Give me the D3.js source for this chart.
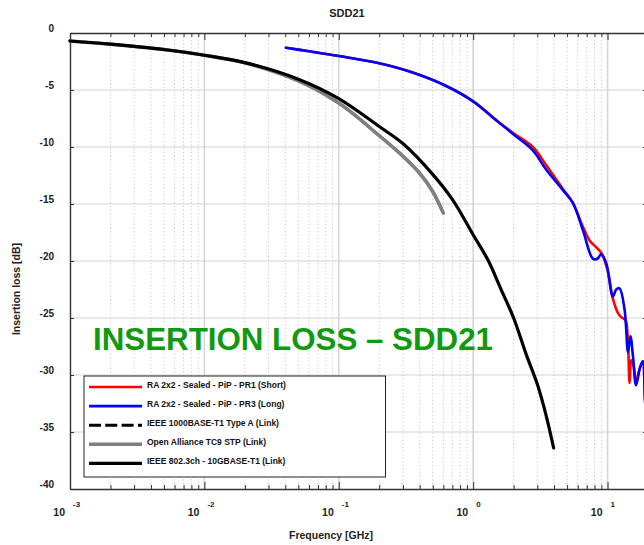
<!DOCTYPE html>
<html><head><meta charset="utf-8">
<script src="https://cdn.jsdelivr.net/npm/d3@7"></script>
<style>
html,body{margin:0;padding:0;background:#fff;overflow:hidden}
svg{display:block;font-family:"Liberation Sans",Arial,sans-serif}
</style></head><body>
<svg id="c" width="644" height="545"></svg>
<script>
// ---------- data ----------
const chartTitle = "SDD21";
const xTitle = "Frequency [GHz]";
const yTitle = "Insertion loss [dB]";
const annotation = "INSERTION LOSS \u2013 SDD21";
const yTickValues = [0, -5, -10, -15, -20, -25, -30, -35, -40];
const xDecadeExponents = [-3, -2, -1, 0, 1];

const seriesNames = [
  "RA 2x2 - Sealed - PiP - PR1 (Short)",
  "RA 2x2 - Sealed - PiP - PR3 (Long)",
  "IEEE 1000BASE-T1 Type A (Link)",
  "Open Alliance TC9 STP (Link)",
  "IEEE 802.3ch - 10GBASE-T1 (Link)"
];

const pr1Freq = [0.0404,0.06,0.1,0.2,0.35,0.63,1.0,1.5,2.0,2.78,3.5,4.67,5.52,6.56,7.35,8.4,9.0,10.0,10.96,12.0,12.6,13.6,14.1,14.6,15.0,15.5,16.3,17.4,18.3,19.0,20];
const pr1IL   = [-1.29,-1.6,-2.02,-2.66,-3.45,-4.65,-6.0,-7.7,-8.8,-10.0,-11.6,-13.7,-14.9,-17.0,-18.2,-18.9,-19.3,-20.8,-23.3,-24.6,-24.9,-25.2,-26.5,-30.7,-28.7,-29.0,-30.5,-29.4,-28.8,-32.2,-35.0];

const pr3Freq = [0.0404,0.06,0.1,0.2,0.35,0.63,1.0,1.5,2.0,2.78,3.5,4.67,5.52,6.56,7.78,8.4,8.98,9.78,10.96,11.6,12.28,13.4,14.2,14.8,15.5,16.3,17.4,18.3,19.0,20];
const pr3IL   = [-1.29,-1.6,-2.02,-2.66,-3.45,-4.65,-6.0,-7.7,-8.9,-10.3,-12.0,-13.8,-14.9,-17.3,-19.8,-19.8,-19.4,-20.2,-23.1,-22.5,-22.4,-24.3,-28.0,-26.6,-28.5,-30.9,-29.4,-28.8,-32.2,-35.0];

const t1Freq = [0.001,0.002,0.005,0.01,0.02,0.05,0.1,0.2,0.3,0.4,0.5,0.6];
const t1IL   = [-0.70,-0.98,-1.45,-1.95,-2.62,-4.2,-6.15,-9.0,-10.8,-12.3,-13.9,-15.8];

const tc9Freq = [0.001,0.002,0.005,0.01,0.02,0.05,0.1,0.2,0.3,0.4,0.5,0.6];
const tc9IL   = [-0.70,-0.98,-1.45,-1.95,-2.62,-4.2,-6.15,-9.0,-10.8,-12.3,-13.9,-15.8];

const gbFreq = [0.001,0.002,0.005,0.01,0.02,0.05,0.1,0.2,0.3,0.5,0.7,1.0,1.3,1.6,2.0,2.5,3.0,3.5,3.97];
const gbIL   = [-0.70,-0.98,-1.45,-1.95,-2.6,-4.05,-5.75,-8.2,-9.7,-12.4,-14.6,-17.7,-20.0,-22.4,-25.0,-28.3,-30.8,-33.6,-36.4];

const seriesColors = ["#ff0000", "#0000ff", "#000000", "#808080", "#000000"];

// ---------- drawing ----------
const svg = d3.select("#c");
const L = 70, R = 648, T = 33, B = 489;
const x = d3.scaleLog().domain([1e-3, 20]).range([L, R]);
const y = d3.scaleLinear().domain([-40, 0]).range([B, T]);

const minorX = [];
xDecadeExponents.forEach(e => { for (let k = 2; k <= 9; k++) { const v = k * Math.pow(10, e); if (v < 20) minorX.push(v); } });
const majorX = xDecadeExponents.map(e => Math.pow(10, e));

const grid = svg.append("g");
grid.selectAll("line.mn").data(minorX).join("line")
  .attr("x1", d => x(d)).attr("x2", d => x(d)).attr("y1", T).attr("y2", B)
  .attr("stroke", "#bdbdbd").attr("stroke-width", 1).attr("stroke-dasharray", "1,2.6");
grid.selectAll("line.mj").data(majorX.slice(1)).join("line")
  .attr("x1", d => x(d)).attr("x2", d => x(d)).attr("y1", T).attr("y2", B)
  .attr("stroke", "#d6d6d6").attr("stroke-width", 1.6);
grid.selectAll("line.h").data(yTickValues.filter(v => v < 0 && v > -40)).join("line")
  .attr("x1", L).attr("x2", R).attr("y1", d => y(d)).attr("y2", d => y(d))
  .attr("stroke", "#d4d4d4").attr("stroke-width", 1.2);

// axes with inward ticks
const allX = majorX.concat(minorX).sort((a,b)=>a-b);
const isMajor = d => majorX.some(m => Math.abs(m - d) < 1e-12);
const gTop = svg.append("g").attr("transform", `translate(0,${T})`)
  .call(d3.axisTop(x).tickValues(allX).tickFormat("").tickSizeOuter(0).tickSizeInner(-4));
gTop.selectAll(".tick line").attr("y2", d => isMajor(d) ? 7 : 4);
const gBot = svg.append("g").attr("transform", `translate(0,${B})`)
  .call(d3.axisBottom(x).tickValues(allX).tickFormat("").tickSizeOuter(0).tickSizeInner(-4));
gBot.selectAll(".tick line").attr("y2", d => isMajor(d) ? -7 : -4);
const gLeft = svg.append("g").attr("transform", `translate(${L},0)`)
  .call(d3.axisLeft(y).tickValues(yTickValues).tickFormat("").tickSizeInner(-4).tickSizeOuter(0));
const gRight = svg.append("g").attr("transform", `translate(${R},0)`)
  .call(d3.axisRight(y).tickValues(yTickValues).tickFormat("").tickSizeInner(-5).tickSizeOuter(0));
[gTop, gBot, gLeft, gRight].forEach(g => {
  g.selectAll(".tick line").attr("stroke", "#333").attr("stroke-width", 1);
  g.select(".domain").attr("stroke", "#333").attr("stroke-width", 1.4);
});

// y tick labels
svg.append("g").selectAll("text").data(yTickValues).join("text")
  .attr("x", 54).attr("y", d => y(d) - 1)
  .attr("text-anchor", "end").attr("font-size", 10).attr("font-weight", "bold").attr("fill", "#222")
  .text(d => String(d));

// x tick labels (10^n)
const xl = svg.append("g").selectAll("g").data(xDecadeExponents).join("g");
xl.append("text").attr("x", d => x(Math.pow(10, d)) - 5).attr("y", 516)
  .attr("text-anchor", "end").attr("font-size", 10.5).attr("font-weight", "bold").attr("fill", "#222").text("10");
xl.append("text").attr("x", d => x(Math.pow(10, d)) + 3).attr("y", 507)
  .attr("text-anchor", "start").attr("font-size", 8).attr("font-weight", "bold").attr("fill", "#222")
  .text(d => String(d));

// titles
svg.append("text").attr("x", 347).attr("y", 17).attr("text-anchor", "middle")
  .attr("font-size", 11).attr("font-weight", "bold").attr("fill", "#222").text(chartTitle);
svg.append("text").attr("x", 331).attr("y", 539).attr("text-anchor", "middle")
  .attr("font-size", 10.5).attr("font-weight", "bold").attr("fill", "#222").text(xTitle);
svg.append("text").attr("transform", "translate(20,289) rotate(-90)").attr("text-anchor", "middle")
  .attr("font-size", 10.5).attr("font-weight", "bold").attr("fill", "#222").text(yTitle);

// series
const line = d3.line().x(d => x(d[0])).y(d => y(d[1])).curve(d3.curveCatmullRom.alpha(0.5));
const zip = (f, v) => f.map((d, i) => [d, v[i]]);
const plot = svg.append("g");
const defs = [
  {data: zip(t1Freq, t1IL), color: seriesColors[2], w: 2.6, dash: "10,4"},
  {data: zip(tc9Freq, tc9IL), color: seriesColors[3], w: 3.6},
  {data: zip(gbFreq, gbIL), color: seriesColors[4], w: 3.2},
  {data: zip(pr1Freq, pr1IL), color: seriesColors[0], w: 2.6},
  {data: zip(pr3Freq, pr3IL), color: seriesColors[1], w: 2.6}
];
plot.selectAll("path").data(defs).join("path")
  .attr("d", d => line(d.data)).attr("fill", "none")
  .attr("stroke", d => d.color).attr("stroke-width", d => d.w)
  .attr("stroke-dasharray", d => d.dash || null)
  .attr("stroke-linejoin", "round").attr("stroke-linecap", "round");

// annotation
svg.append("text").attr("x", 93).attr("y", 350).attr("font-size", 31.3).attr("font-weight", "bold")
  .attr("fill", "#119911").text(annotation);

// legend
const lg = svg.append("g");
lg.append("rect").attr("x", 84).attr("y", 376).attr("width", 301.5).attr("height", 101)
  .attr("fill", "#fff").attr("stroke", "#222").attr("stroke-width", 1);
const legStyles = [
  {color: seriesColors[0], w: 2.6},
  {color: seriesColors[1], w: 2.6},
  {color: seriesColors[2], w: 3, dash: "12,4.3"},
  {color: seriesColors[3], w: 3.4},
  {color: seriesColors[4], w: 3.4}
];
const rows = lg.selectAll("g").data(seriesNames).join("g")
  .attr("transform", (d, i) => `translate(0,${387 + i * 19.1})`);
rows.append("line").attr("x1", 89).attr("x2", 142).attr("y1", 0).attr("y2", 0)
  .attr("stroke", (d, i) => legStyles[i].color).attr("stroke-width", (d, i) => legStyles[i].w)
  .attr("stroke-dasharray", (d, i) => legStyles[i].dash || null);
rows.append("text").attr("x", 147).attr("y", 1).attr("font-size", 8.5).attr("font-weight", "bold")
  .attr("fill", "#111").text(d => d);
</script>
</body></html>
